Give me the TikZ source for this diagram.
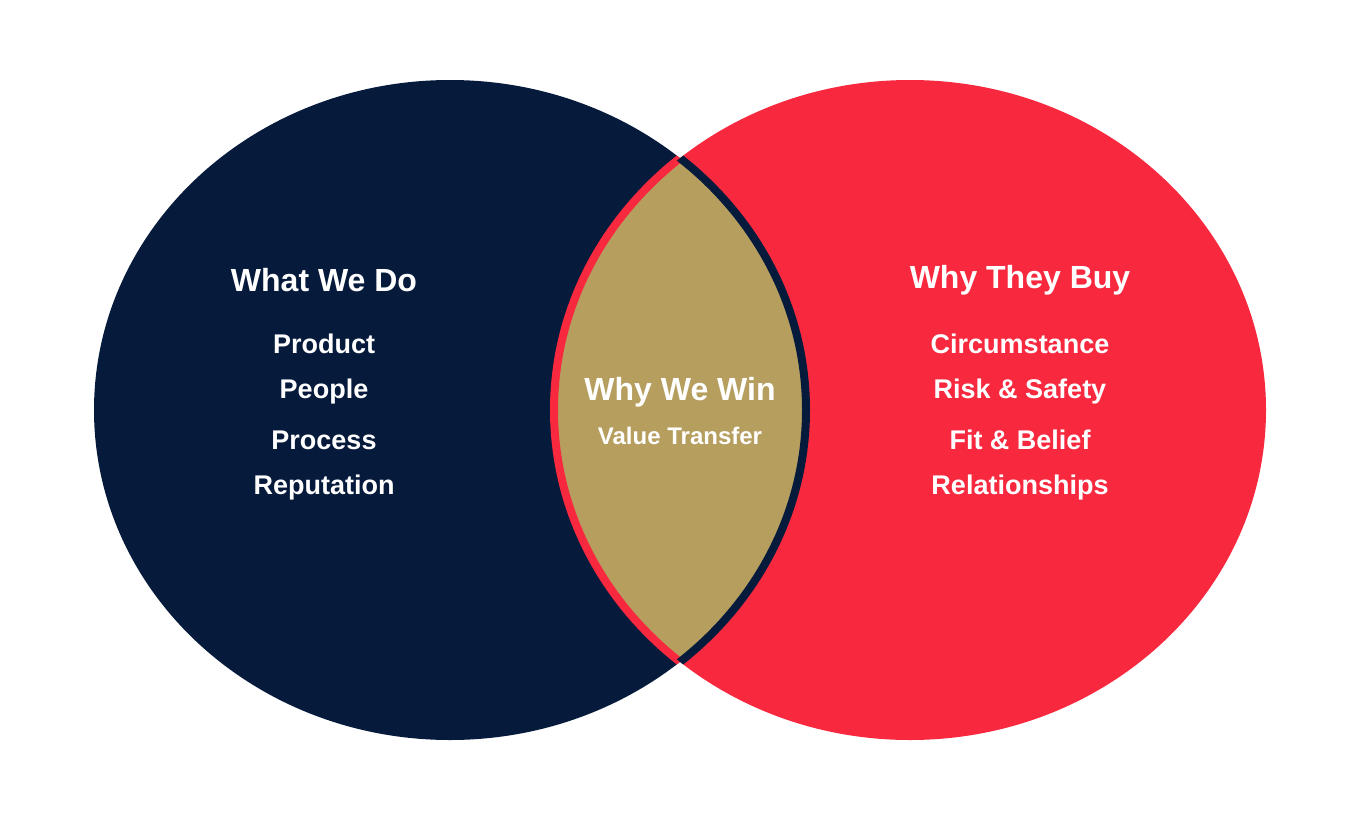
\documentclass[tikz,border=0pt]{standalone}
\usepackage{fontspec}
\setmainfont{Liberation Sans}
\definecolor{navy}{HTML}{061A3C}
\definecolor{vred}{HTML}{F8293F}
\definecolor{gold}{HTML}{B69E5F}
\begin{document}
\begin{tikzpicture}[x=1pt,y=-1pt,
  ttl/.style={text=white,font=\bfseries\fontsize{32}{36}\selectfont,anchor=center},
  itm/.style={text=white,font=\bfseries\fontsize{27}{30}\selectfont,anchor=center},
  sub/.style={text=white,font=\bfseries\fontsize{24}{28}\selectfont,anchor=center}]
\useasboundingbox (0,0) rectangle (1360,820);
\fill[navy] (450,410) ellipse [x radius=356,y radius=330];
\fill[vred] (910,410) ellipse [x radius=356,y radius=330];
\begin{scope}
  \clip (450,410) ellipse [x radius=356,y radius=330];
  \fill[gold] (910,410) ellipse [x radius=356,y radius=330];
  \draw[vred,line width=8] (910,410) ellipse [x radius=356,y radius=330];
\end{scope}
\begin{scope}
  \clip (910,410) ellipse [x radius=356,y radius=330];
  \draw[navy,line width=8] (450,410) ellipse [x radius=356,y radius=330];
\end{scope}
\node[ttl] (l0) at (324,280) {What We Do};
\node[itm] (l1) at (324,344) {Product};
\node[itm] (l2) at (324,392) {People};
\node[itm] (l3) at (324,440) {Process};
\node[itm] (l4) at (324,488) {Reputation};
\node[ttl] (r0) at (1020,280) {Why They Buy};
\node[itm] (r1) at (1020,344) {Circumstance};
\node[itm] (r2) at (1020,392) {Risk \& Safety};
\node[itm] (r3) at (1020,440) {Fit \& Belief};
\node[itm] (r4) at (1020,488) {Relationships};
\node[ttl] (c0) at (680,392) {Why We Win};
\node[sub] (c1) at (680,436) {Value Transfer};
\end{tikzpicture}
\end{document}
